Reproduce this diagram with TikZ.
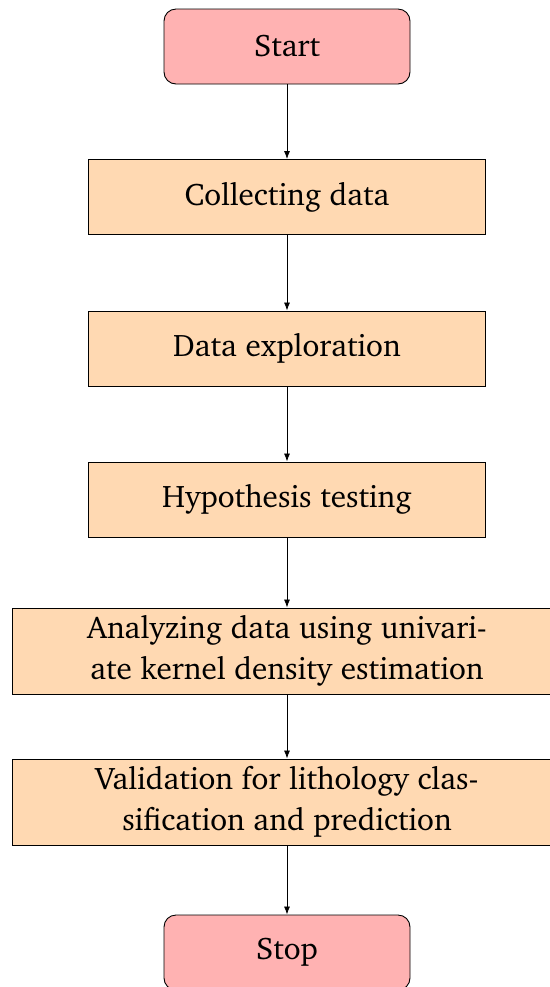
\documentclass[tikz,border=0pt]{standalone}
\usepackage[T1]{fontenc}
\usepackage{charter}
\usetikzlibrary{arrows.meta}
\begin{document}
\begin{tikzpicture}[x=0.5pt,y=-0.5pt,
  font=\fontsize{15.6}{20.5}\selectfont,
  terminal/.style={draw=black, line width=0.45pt, fill=red!30, rounded corners=6pt,
    minimum width=123pt, minimum height=37.5pt, align=center, inner sep=0pt},
  process/.style={draw=black, line width=0.45pt, fill=orange!30,
    minimum width=198.7pt, minimum height=37.5pt, align=center, inner sep=0pt},
  wideprocess/.style={process, minimum width=274.3pt, minimum height=43pt},
  flow/.style={draw=black, line width=0.4pt, -{Latex[length=4pt,width=3pt]}}]
\useasboundingbox (0,0) rectangle (550,987);
\node[terminal] (start) at (287,46.5) {Start};
\node[process] (collect) at (287,197) {Collecting data};
\node[process] (explore) at (287,348.5) {Data exploration};
\node[process] (hypo) at (287,499.5) {Hypothesis testing};
\node[wideprocess] (analyze) at (287,651) {Analyzing data using univari-\\ate kernel density estimation};
\node[wideprocess] (valid) at (287,802) {Validation for lithology clas-\\sification and prediction};
\node[terminal] (stop) at (287,952.5) {Stop};
\draw[flow] (start) -- (collect);
\draw[flow] (collect) -- (explore);
\draw[flow] (explore) -- (hypo);
\draw[flow] (hypo) -- (analyze);
\draw[flow] (analyze) -- (valid);
\draw[flow] (valid) -- (stop);
\end{tikzpicture}
\end{document}
